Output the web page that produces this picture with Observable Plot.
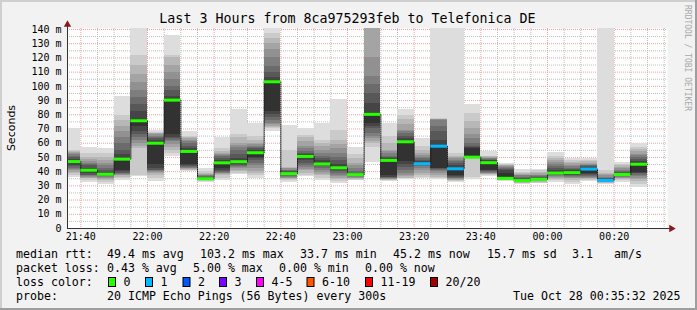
<!DOCTYPE html>
<html><head><meta charset="utf-8">
<script src="https://cdn.jsdelivr.net/npm/d3@7"></script>
<script src="https://cdn.jsdelivr.net/npm/@observablehq/plot@0.6"></script>
<style>
html,body{margin:0;padding:0;background:#f2f2f2;}
#chart svg{display:block;}
</style></head><body><div id="chart"></div>
<script>
// ---------- data ----------
const titleText = "Last 3 Hours from 8ca975293feb to Telefonica DE";
const yLabel = "Seconds";
const watermark = "RRDTOOL / TOBI OETIKER";
const graphStart = "21:36:00";
const graphEnd = "00:36:00";
// each bar is the 300 s step ending at this time
const barEnds = ["21:40","21:45","21:50","21:55","22:00","22:05","22:10","22:15","22:20","22:25",
  "22:30","22:35","22:40","22:45","22:50","22:55","23:00","23:05","23:10","23:15",
  "23:20","23:25","23:30","23:35","23:40","23:45","23:50","23:55","00:00","00:05",
  "00:10","00:15","00:20","00:25","00:30"];
const medians = [47.1,41.0,38.2,48.8,75.8,60.0,90.3,54.2,35.0,46.2,
  47.0,53.3,103.2,38.6,50.7,45.4,42.7,37.9,80.3,47.9,
  61.0,45.6,57.9,42.0,50.2,46.3,35.3,33.7,34.6,39.0,
  39.3,41.8,33.8,38.0,45.2];
const losses = [0,0,0,0,0,0,0,0,0,0, 0,0,0,0,0,0,0,0,0,0, 0,1,1,1,0,0,0,0,0,0, 0,1,1,0,0];
// 20 sorted ping rtts (ms) per step
const pings = [
  [36,37,38.5,39.5,40.5,41.5,42.5,43.5,44.5,45.5,47.3,48.5,50,51,52,53,53.5,54,55,70],
  [32.6,34,35,35.5,36,36.5,37,37.5,38.5,40,41.3,42.5,44,45,46,47,48.5,50,52.5,57.2],
  [31.3,32.5,33.5,34.5,35.5,36,36.5,37,37.5,38,38.5,39.5,41,42.5,44,46,48,50,52.5,56],
  [34,35,36,37,37.5,38,38.5,39,40,41,49,52,55,60,64,68,72,76,79.6,93],
  [36.5,37.3,56,58,60,62,64,66,68,72,76.5,82,87,92,97,103,108,115,122,150],
  [33,35,37,38.5,39.5,40,40.5,41,42,45,60.5,62,63,64,65,66,66.5,67,67.5,69],
  [51,53,55,57,59,61,62,63,64,66,91,93,97,100,105,110,115,120,122,136],
  [40,40.5,41,41.5,42,42.5,43,43.5,44,45,54.5,56,58,59.5,61,62,63,64,65,68],
  [32.5,33,33.5,33.8,34,34.3,34.5,34.7,34.8,35,35.3,35.6,36,36.5,37,37.5,38,39,40,42.5],
  [34,35.5,37,38,38.5,39,39.5,40,41,42,46.5,48,49.5,50.5,51.5,52,53,54,56,64],
  [38,39,40,41,42,43,43.5,44,45,46.5,47.3,49,52,55,57,58.5,60,64,66,84],
  [35,37,38.5,40,42,44,46,48,49,50,53.5,55,56,57,58,59,59.5,62,65,74],
  [68,70,71,72,73,74,76,78,80,82,103.5,106,110,114,120,126,130,134,137,150],
  [32.5,33.5,34.5,35,35.5,36,36.5,37,37.5,38,39,39.5,40,40.5,41,42,42.5,43,55,72.5],
  [36.5,37.5,39,40.5,41.5,43,44.5,46,48,49.5,51,52,53,54,56,58,61,64,65.5,70],
  [34,35.5,37,38,39.5,41,42.5,43.5,44.5,45,46,47.5,49,51,53,55,58,60,62,74],
  [31.5,33,34.5,35.5,36.5,37.5,39,40,41,42,43,45,47.5,50,53,56,59,62,69,91],
  [33.5,34,34.5,35,35.5,36,36.5,37,37.3,37.6,38,38.5,39,40,42,44,46,49,52,57],
  [46.5,57,59.5,61,63,65,67,70,72,74,81,88,95,101,107,120,145,146,147,150],
  [33,33.5,34,34.3,34.6,35,35.3,35.6,36,37,48,49,50,51,52.5,54,55,60,65,74],
  [34.4,35,35.5,36.5,37.5,39,41,43,45,47,61.5,63,65,66.8,68,69,73,77,79.6,84],
  [35,36,37.5,39,40.5,42,43.5,44.5,45.2,45.5,46,47,48,49,50,51.5,53,55,58,63.5],
  [34.3,35,36,37,38.5,40,41,41.5,42,42.5,58.3,62,68,72,76,76.5,77,77,77.5,150],
  [32.5,33,33.5,34,34.5,35,35.5,36,36.5,37,42.3,44,45.5,47,48,49,50,51,53,150],
  [34.4,36,49,49.3,49.5,49.7,49.8,49.9,50,50.2,56,57,58,60,63,66,70,75,80.7,87.2],
  [36.8,37.5,38,38.3,38.6,39,39.5,40,40.5,41,46.5,47.5,48,48.5,49,49.5,50,50.5,51,54.2],
  [33,33.5,34,34.3,34.6,34.9,35.1,35.2,35.3,35.4,39,40.8,41.5,42.5,43,43.5,44,44.3,44.8,45.5],
  [31,31.5,32,32.5,33,33.2,33.4,33.5,33.6,33.6,33.8,34.2,35,36,37,37.5,38,38.5,39.5,41.5],
  [31.5,32,32.5,33,33.5,34,34.2,34.3,34.4,34.5,34.8,35.5,36,36.5,37,37.5,38.5,39.5,40.5,41.5],
  [32.6,33.5,34.5,35.2,35.8,36.5,37,37.5,38,38.8,39.5,40.8,42,43.5,45,46.5,48,49,51,53.7],
  [31.3,32.5,34,35,35.5,36,36.5,37,37.5,38,39.5,40.5,41.5,42.5,43.5,44.5,45.5,46.5,47.5,49.5],
  [33.4,34,34.5,35,35.5,36,36.5,37,38,39,42,43,43.5,44,44.5,45,46,47,48,49.5],
  [31,31.5,32,32.5,33,33.3,33.6,33.8,34,34,34.2,34.5,35,35.5,36,37,38,39,40.8,150],
  [32.6,33.5,34.3,35,35.5,36,36.5,37,37.5,37.8,38.2,38.7,39.3,40,41,42,43,44,45,46.2],
  [29,31,33,34.5,35.5,36.5,37.5,38.5,39,39.6,45.5,47,48.5,50,51.5,52.3,54,55.5,57,60]
];
const yTicks = [0,10,20,30,40,50,60,70,80,90,100,110,120,130,140];
const xTickLabels = ["21:40","22:00","22:20","22:40","23:00","23:20","23:40","00:00","00:20"];
const lossLevels = ["0","1","2","3","4-5","6-10","11-19","20/20"];
const lossMaxCount = [0,1,2,3,5,10,19,20];
const lossColors = ["#26ff00","#00b8ff","#0059ff","#7e00ff","#ff00ff","#ff5500","#ff0000","#a10000"];
const rttLabel = "median rtt:";
const rttStats = ["49.4 ms avg","103.2 ms max","33.7 ms min","45.2 ms now","15.7 ms sd","3.1","am/s"];
const lossLabel = "packet loss:";
const lossStats = ["0.43 % avg","5.00 % max","0.00 % min","0.00 % now"];
const lossColorLabel = "loss color:";
const probeLabel = "probe:";
const probeText = "20 ICMP Echo Pings (56 Bytes) every 300s";
const stamp = "Tue Oct 28 00:35:32 2025";

// ---------- helpers ----------
function toDate(s) {
  const [h, m, sec = 0] = s.split(":").map(Number);
  return new Date(Date.UTC(2025, 9, h < 12 ? 28 : 27, h, m, sec));
}
const STEP = 300 * 1000;
const x0 = toDate(graphStart), x1 = toDate(graphEnd);
const shade = k => { const c = Math.floor(19 * (10 - k)) + 50; return `rgb(${c},${c},${c})`; };
const lossColor = n => lossColors[lossMaxCount.findIndex(m => n <= m)];

const bars = barEnds.map((t, i) => ({end: toDate(t), start: new Date(toDate(t) - STEP), median: medians[i], loss: losses[i], p: pings[i]}));
const smoke = [];
bars.forEach(b => { for (let k = 1; k <= 10; k++) smoke.push({x1: b.start, x2: b.end, y1: b.p[k - 1], y2: b.p[20 - k], k}); });
const medPts = bars.flatMap(b => [{t: b.start, v: b.median}, {t: b.end, v: b.median}]);
const xTicks = xTickLabels.map(toDate);
const minorX = d3.utcMinute.every(5).range(x0, x1).filter(d => d.getUTCMinutes() % 20 !== 0);
const minorY = d3.range(5, 141, 10);

const mono = "DejaVu Sans Mono";
const plot = Plot.plot({
  width: 697, height: 310,
  marginLeft: 67, marginRight: 30, marginTop: 28, marginBottom: 82,
  style: {background: "#f2f2f2", fontFamily: mono, fontSize: "10px", color: "#000", overflow: "visible"},
  x: {type: "utc", domain: [x0, x1]},
  y: {domain: [0, 140.7]},
  marks: [
    Plot.frame({fill: "white", stroke: "none"}),
    Plot.ruleY(minorY, {stroke: "#bdbdbd", strokeDasharray: "1,1"}),
    Plot.ruleX(minorX, {stroke: "#bdbdbd", strokeDasharray: "1,1"}),
    Plot.ruleY(yTicks.filter(d => d > 0), {stroke: "#f0a0a0", strokeDasharray: "1,1"}),
    Plot.ruleX(xTicks, {stroke: "#f0a0a0", strokeDasharray: "1,1"}),
    Plot.rect(smoke, {x1: "x1", x2: "x2", y1: "y1", y2: "y2", fill: d => shade(d.k), clip: true, shapeRendering: "crispEdges"}),
    Plot.line(medPts, {x: "t", y: "v", stroke: "#202020", strokeWidth: 1, strokeDasharray: "1,1", clip: true}),
    Plot.ruleY(bars, {y: "median", x1: "start", x2: "end", stroke: d => lossColor(d.loss), strokeWidth: 3, clip: true}),
    Plot.axisY(yTicks, {tickSize: 0, tickPadding: 6, tickFormat: d => d === 0 ? "0" : d + " m", fontSize: 10, fill: "#000"}),
    Plot.axisX(xTicks, {tickSize: 0, tickPadding: 4, tickFormat: d3.utcFormat("%H:%M"), fontSize: 10, fill: "#000"}),
    Plot.ruleX([x0], {y1: 0, y2: 145.3, stroke: "#333"}),
    Plot.ruleY([0], {x1: x0, x2: new Date(+x1 + 110000), stroke: "#333"}),
    Plot.dot([x0], {x: d => d, y: 143.4, symbol: "triangle", r: 1.8, fill: "#8b1a1a", stroke: "#8b1a1a"}),
    Plot.dot([0], {x: new Date(+x1 + 70000), y: 0, symbol: "triangle", r: 1.8, rotate: 90, fill: "#8b1a1a", stroke: "#8b1a1a"})
  ]
});
document.getElementById("chart").appendChild(plot);

// ---------- extra texts (rrdtool-style frame, title, legend) ----------
const svg = d3.select(plot);
const g = svg.append("g");
g.append("line").attr("x1", 0).attr("x2", 697).attr("y1", 1).attr("y2", 1).attr("stroke", "#cfcfcf").attr("stroke-width", 2);
g.append("line").attr("x1", 1).attr("x2", 1).attr("y1", 0).attr("y2", 310).attr("stroke", "#cfcfcf").attr("stroke-width", 2);
g.append("line").attr("x1", 0).attr("x2", 697).attr("y1", 309).attr("y2", 309).attr("stroke", "#9e9e9e").attr("stroke-width", 2);
g.append("line").attr("x1", 696).attr("x2", 696).attr("y1", 0).attr("y2", 310).attr("stroke", "#9e9e9e").attr("stroke-width", 2);

const txt = (s, x, y, size, opts = {}) => g.append("text").text(s).attr("x", x).attr("y", y)
  .attr("font-family", opts.family || mono).attr("font-size", size).attr("fill", opts.fill || "#000")
  .attr("text-anchor", opts.anchor || "start").attr("transform", opts.transform || null)
  .style("white-space", "pre");

txt(titleText, 347.5, 23, 13.3, {anchor: "middle"});
txt(yLabel, 0, 0, 11, {family: "DejaVu Sans", anchor: "middle", transform: "translate(15,128) rotate(-90)"});
txt(watermark, 0, 0, 8, {fill: "#a8a8a8", transform: "translate(685,5) rotate(90)"});

const LEG = 11.6;
const rowY = [258, 272, 286, 300];
txt(rttLabel, 16, rowY[0], LEG);
const rttX = [107, 200, 300, 393, 487, 572, 614];
rttStats.forEach((s, i) => txt(s, rttX[i], rowY[0], LEG));
txt(lossLabel, 16, rowY[1], LEG);
const lossX = [107, 193, 279, 365];
lossStats.forEach((s, i) => txt(s, lossX[i], rowY[1], LEG));
txt(lossColorLabel, 16, rowY[2], LEG);
const boxX = [108.5, 145.5, 183, 219.5, 256.5, 307, 365.5, 430.5];
lossLevels.forEach((s, i) => {
  g.append("rect").attr("x", boxX[i]).attr("y", 277.5).attr("width", 7).attr("height", 9)
    .attr("fill", lossColors[i]).attr("stroke", "#000").attr("stroke-width", 1);
  txt(s, boxX[i] + 15, rowY[2], LEG);
});
txt(probeLabel, 16, rowY[3], LEG);
txt(probeText, 107, rowY[3], LEG);
txt(stamp, 513, rowY[3], LEG);
</script></body></html>
